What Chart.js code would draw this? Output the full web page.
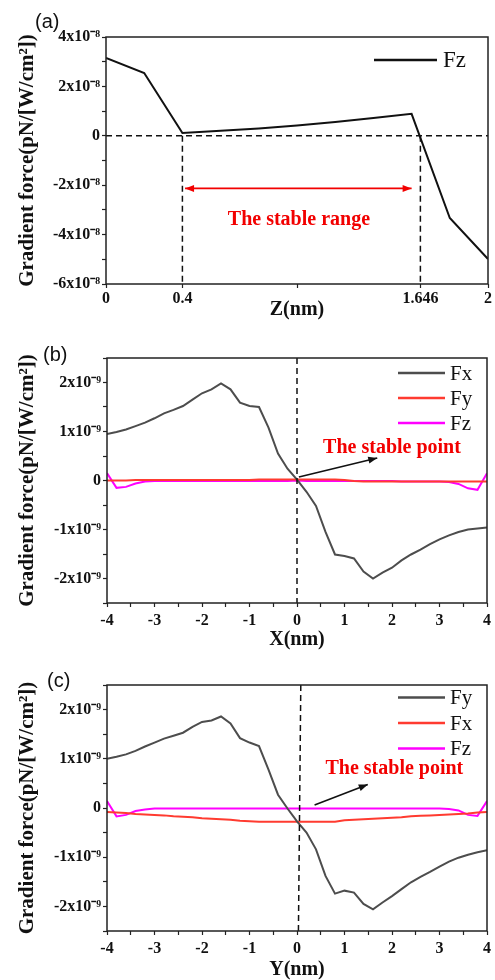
<!DOCTYPE html>
<html>
<head>
<meta charset="utf-8">
<script src="https://cdn.jsdelivr.net/npm/chart.js@4/dist/chart.umd.min.js"></script>
<style>
  body { margin: 0; background: #fff; width: 495px; height: 980px; position: relative; overflow: hidden; }
  canvas { position: absolute; left: 0; display: block; }
  .tag { position: absolute; font: 20px "Liberation Sans", Arial, sans-serif; line-height: 20px; color: #111; }
</style>
</head>
<body>
<canvas id="chartA" width="495" height="320" style="top:0"></canvas>
<canvas id="chartB" width="495" height="330" style="top:320px"></canvas>
<canvas id="chartC" width="495" height="330" style="top:650px"></canvas>
<div class="tag" style="left:35px;top:11px">(a)</div>
<div class="tag" style="left:43px;top:344px">(b)</div>
<div class="tag" style="left:47px;top:670px">(c)</div>
<script>
// ---- data ----
// panel (a): Fz along Z, values in units of 1e-8
const zA = [0, 0.2, 0.4, 0.6, 0.8, 1.0, 1.2, 1.4, 1.6, 1.8, 2.0];
const fzA = [3.15, 2.54, 0.11, 0.20, 0.30, 0.42, 0.56, 0.72, 0.89, -3.33, -4.99];
const zTicks = [0, 0.4, 1, 1.646, 2];

// panels (b) and (c): position in nm, forces in units of 1e-9
const posNm = [-4, -3.8, -3.6, -3.4, -3.2, -3, -2.8, -2.6, -2.4, -2.2, -2, -1.8, -1.6, -1.4, -1.2, -1, -0.8, -0.6, -0.4, -0.2,
  0, 0.2, 0.4, 0.6, 0.8, 1, 1.2, 1.4, 1.6, 1.8, 2, 2.2, 2.4, 2.6, 2.8, 3, 3.2, 3.4, 3.6, 3.8, 4];

const fxB = [0.95, 0.99, 1.04, 1.11, 1.18, 1.27, 1.37, 1.44, 1.52, 1.65, 1.78, 1.86, 1.98, 1.86, 1.59, 1.52, 1.50, 1.08, 0.55, 0.24,
  0.02, -0.23, -0.52, -1.05, -1.51, -1.54, -1.59, -1.86, -2.00, -1.88, -1.78, -1.63, -1.51, -1.41, -1.30, -1.20, -1.12, -1.05, -1.00, -0.98, -0.96];
const fyB = [0, 0, 0, 0.01, 0.01, 0.01, 0.01, 0.01, 0.01, 0.01, 0.01, 0.01, 0.01, 0.01, 0.01, 0.01, 0.02, 0.02, 0.02, 0.02,
  0.02, 0.02, 0.02, 0.02, 0.02, 0.01, -0.01, -0.02, -0.02, -0.02, -0.02, -0.02, -0.02, -0.02, -0.02, -0.02, -0.02, -0.02, -0.02, -0.02, -0.02];
const fzB = [0.15, -0.15, -0.13, -0.06, -0.02, -0.01, -0.01, -0.01, -0.01, -0.01, -0.01, -0.01, -0.01, -0.01, -0.01, -0.01, -0.01, -0.01, -0.01, -0.01,
  0, -0.01, -0.01, -0.01, -0.01, -0.01, -0.01, -0.01, -0.01, -0.01, -0.01, -0.02, -0.02, -0.02, -0.02, -0.02, -0.03, -0.07, -0.16, -0.19, 0.15];

const fyC = [1.00, 1.04, 1.09, 1.16, 1.25, 1.33, 1.41, 1.47, 1.53, 1.65, 1.75, 1.78, 1.86, 1.72, 1.42, 1.33, 1.26, 0.78, 0.27, -0.01,
  -0.27, -0.50, -0.84, -1.38, -1.74, -1.68, -1.72, -1.95, -2.06, -1.92, -1.79, -1.65, -1.51, -1.40, -1.30, -1.19, -1.09, -1.01, -0.95, -0.90, -0.86];
const fxC = [-0.08, -0.09, -0.10, -0.12, -0.13, -0.14, -0.15, -0.17, -0.18, -0.19, -0.21, -0.22, -0.23, -0.24, -0.26, -0.27, -0.28, -0.28, -0.28, -0.28,
  -0.28, -0.28, -0.28, -0.28, -0.28, -0.25, -0.24, -0.23, -0.22, -0.21, -0.20, -0.19, -0.17, -0.16, -0.15, -0.14, -0.13, -0.12, -0.11, -0.09, -0.08];
const fzC = [0.14, -0.17, -0.14, -0.06, -0.03, -0.01, -0.01, -0.01, -0.01, -0.01, -0.01, -0.01, -0.01, -0.01, -0.01, -0.01, -0.01, -0.01, -0.01, -0.01,
  -0.01, -0.01, -0.01, -0.01, -0.01, -0.01, -0.01, -0.01, -0.01, -0.01, -0.01, -0.01, -0.01, -0.01, -0.01, -0.01, -0.02, -0.05, -0.14, -0.16, 0.14];

// ---- styling ----
const serif = '"Liberation Serif", "Times New Roman", serif';
const INK = '#111';
const GRAY = '#4d4d4d', RED = '#ff3b30', MAGENTA = '#ff00ff', NOTE = '#f20000';
const sup8 = 'x10\u207B\u2078', sup9 = 'x10\u207B\u2079';
const yTitle = 'Gradient force(pN/[W/cm\u00B2])';

const pts = (xs, ys) => xs.map((v, i) => ({x: v, y: ys[i]}));
const line = (label, xs, ys, color) => ({
  label, data: pts(xs, ys), borderColor: color, borderWidth: 2,
  pointRadius: 0, tension: 0, fill: false
});

function head(ctx, x0, y0, x1, y1, len, half) {
  const a = Math.atan2(y1 - y0, x1 - x0), c = Math.cos(a), s = Math.sin(a);
  ctx.beginPath();
  ctx.moveTo(x1, y1);
  ctx.lineTo(x1 - len * c + half * s, y1 - len * s - half * c);
  ctx.lineTo(x1 - len * c - half * s, y1 - len * s + half * c);
  ctx.closePath();
  ctx.fill();
}

// frame, dashed guides, arrows, notes and legend, all placed through the scales
function deco(spec) {
  return {
    id: 'deco',
    afterDatasetsDraw(chart) {
      const {ctx, chartArea: a, scales: {x, y}} = chart;
      const X = v => x.getPixelForValue(v), Y = v => y.getPixelForValue(v);
      ctx.save();
      ctx.setLineDash([6, 4]);
      ctx.lineWidth = 1.5;
      ctx.strokeStyle = INK;
      (spec.guides || []).forEach(g => {
        ctx.beginPath();
        ctx.moveTo(X(g[0]), Y(g[1]));
        ctx.lineTo(X(g[2]), Y(g[3]));
        ctx.stroke();
      });
      ctx.setLineDash([]);
      (spec.arrows || []).forEach(r => {
        const x0 = X(r.from[0]), y0 = Y(r.from[1]), x1 = X(r.to[0]), y1 = Y(r.to[1]);
        ctx.strokeStyle = ctx.fillStyle = r.color;
        ctx.lineWidth = 1.6;
        ctx.beginPath(); ctx.moveTo(x0, y0); ctx.lineTo(x1, y1); ctx.stroke();
        head(ctx, x0, y0, x1, y1, 9, 3.5);
        if (r.both) head(ctx, x1, y1, x0, y0, 9, 3.5);
      });
      (spec.notes || []).forEach(n => {
        ctx.fillStyle = n.color;
        ctx.font = 'bold 20px ' + serif;
        ctx.textAlign = 'center';
        ctx.textBaseline = 'middle';
        ctx.fillText(n.text, X(n.at[0]), Y(n.at[1]));
      });
      // frame
      ctx.strokeStyle = '#222';
      ctx.lineWidth = 1.5;
      ctx.strokeRect(a.left, a.top, a.right - a.left, a.bottom - a.top);
      // legend inside the plot, top right
      const lg = spec.legend;
      chart.data.datasets.forEach((ds, i) => {
        const yy = a.top + lg.top + i * lg.step;
        ctx.strokeStyle = ds.borderColor;
        ctx.lineWidth = 2.5;
        ctx.beginPath(); ctx.moveTo(a.right - lg.l1, yy); ctx.lineTo(a.right - lg.l2, yy); ctx.stroke();
        ctx.fillStyle = INK;
        ctx.font = lg.size + 'px ' + serif;
        ctx.textAlign = 'left';
        ctx.textBaseline = 'middle';
        ctx.fillText(ds.label, a.right - lg.tx, yy + 1);
      });
      ctx.restore();
    }
  };
}

function axis(extra) {
  return Object.assign({
    type: 'linear',
    grid: {display: true, drawOnChartArea: false, drawTicks: true, tickLength: 4, tickColor: '#222', tickWidth: 1.2},
    border: {display: false},
    ticks: {color: INK, font: {family: serif, size: 16, weight: 'bold'}, autoSkip: false, maxRotation: 0}
  }, extra);
}

function makeChart(id, datasets, o) {
  new Chart(document.getElementById(id), {
    type: 'line',
    data: {datasets},
    options: {
      responsive: false, animation: false, events: [],
      layout: {padding: {top: o.top, right: 7, left: 0, bottom: 0}},
      plugins: {legend: {display: false}, tooltip: {enabled: false}},
      scales: {
        x: axis({
          min: o.xMin, max: o.xMax,
          afterFit: s => { s.height = o.xHeight; },
          afterBuildTicks: o.xTicks ? s => { s.ticks = o.xTicks.map(v => ({value: v})); } : undefined,
          ticks: Object.assign({}, axis().ticks, {padding: o.xPad, stepSize: o.xStep, callback: o.xLabel}),
          title: {display: true, text: o.xTitle, color: INK, padding: {top: 0, bottom: 0},
                  font: {family: serif, size: 20, weight: 'bold', lineHeight: 1}}
        }),
        y: axis({
          min: o.yMin, max: o.yMax,
          afterFit: s => { s.width = o.yWidth; },
          ticks: Object.assign({}, axis().ticks, {padding: 2, stepSize: o.yStep, callback: o.yLabel}),
          title: {display: true, text: yTitle, color: INK, padding: {top: 15, bottom: 0},
                  font: {family: serif, size: 21, weight: 'bold'}}
        })
      }
    },
    plugins: [deco(o.deco)]
  });
}

const isInt = v => Math.abs(v - Math.round(v)) < 1e-6;
const labelY = (suffix, every) => v => {
  const n = Math.round(v);
  if (!isInt(v) || n % every !== 0) return '';
  return n === 0 ? '0' : n + suffix;
};

makeChart('chartA', [line('Fz', zA, fzA, INK)], {
  top: 37, xHeight: 36, yWidth: 106, xPad: 1,
  xMin: 0, xMax: 2, xTicks: zTicks, xLabel: v => (v === 1 ? '' : String(v)), xTitle: 'Z(nm)',
  yMin: -6, yMax: 4, yStep: 1, yLabel: labelY(sup8, 2),
  deco: {
    guides: [[0, 0, 2, 0], [0.4, 0, 0.4, -6], [1.646, 0, 1.646, -6]],
    arrows: [{from: [0.414, -2.13], to: [1.6, -2.13], color: NOTE, both: true}],
    notes: [{text: 'The stable range', at: [1.01, -3.4], color: NOTE}],
    legend: {top: 23, step: 25, l1: 114, l2: 51, tx: 45, size: 23}
  }
});

makeChart('chartB', [line('Fx', posNm, fxB, GRAY), line('Fy', posNm, fyB, RED), line('Fz', posNm, fzB, MAGENTA)], {
  top: 38, xHeight: 47, yWidth: 107, xPad: 4,
  xMin: -4, xMax: 4, xStep: 0.5, xLabel: v => (isInt(v) ? String(Math.round(v)) : ''), xTitle: 'X(nm)',
  yMin: -2.5, yMax: 2.5, yStep: 0.5, yLabel: labelY(sup9, 1),
  deco: {
    guides: [[0, 2.5, 0, -2.5]],
    arrows: [{from: [0.04, 0.07], to: [1.69, 0.46], color: INK}],
    notes: [{text: 'The stable point', at: [2.0, 0.66], color: NOTE}],
    legend: {top: 15, step: 25, l1: 89, l2: 42, tx: 37, size: 21}
  }
});

makeChart('chartC', [line('Fy', posNm, fyC, GRAY), line('Fx', posNm, fxC, RED), line('Fz', posNm, fzC, MAGENTA)], {
  top: 35, xHeight: 49, yWidth: 107, xPad: 4,
  xMin: -4, xMax: 4, xStep: 0.5, xLabel: v => (isInt(v) ? String(Math.round(v)) : ''), xTitle: 'Y(nm)',
  yMin: -2.5, yMax: 2.5, yStep: 0.5, yLabel: labelY(sup9, 1),
  deco: {
    guides: [[0.08, 2.5, 0.03, -2.5]],
    arrows: [{from: [0.37, 0.06], to: [1.49, 0.48], color: INK}],
    notes: [{text: 'The stable point', at: [2.05, 0.8], color: NOTE}],
    legend: {top: 12.5, step: 25.5, l1: 89, l2: 42, tx: 37, size: 21}
  }
});
</script>
</body>
</html>
